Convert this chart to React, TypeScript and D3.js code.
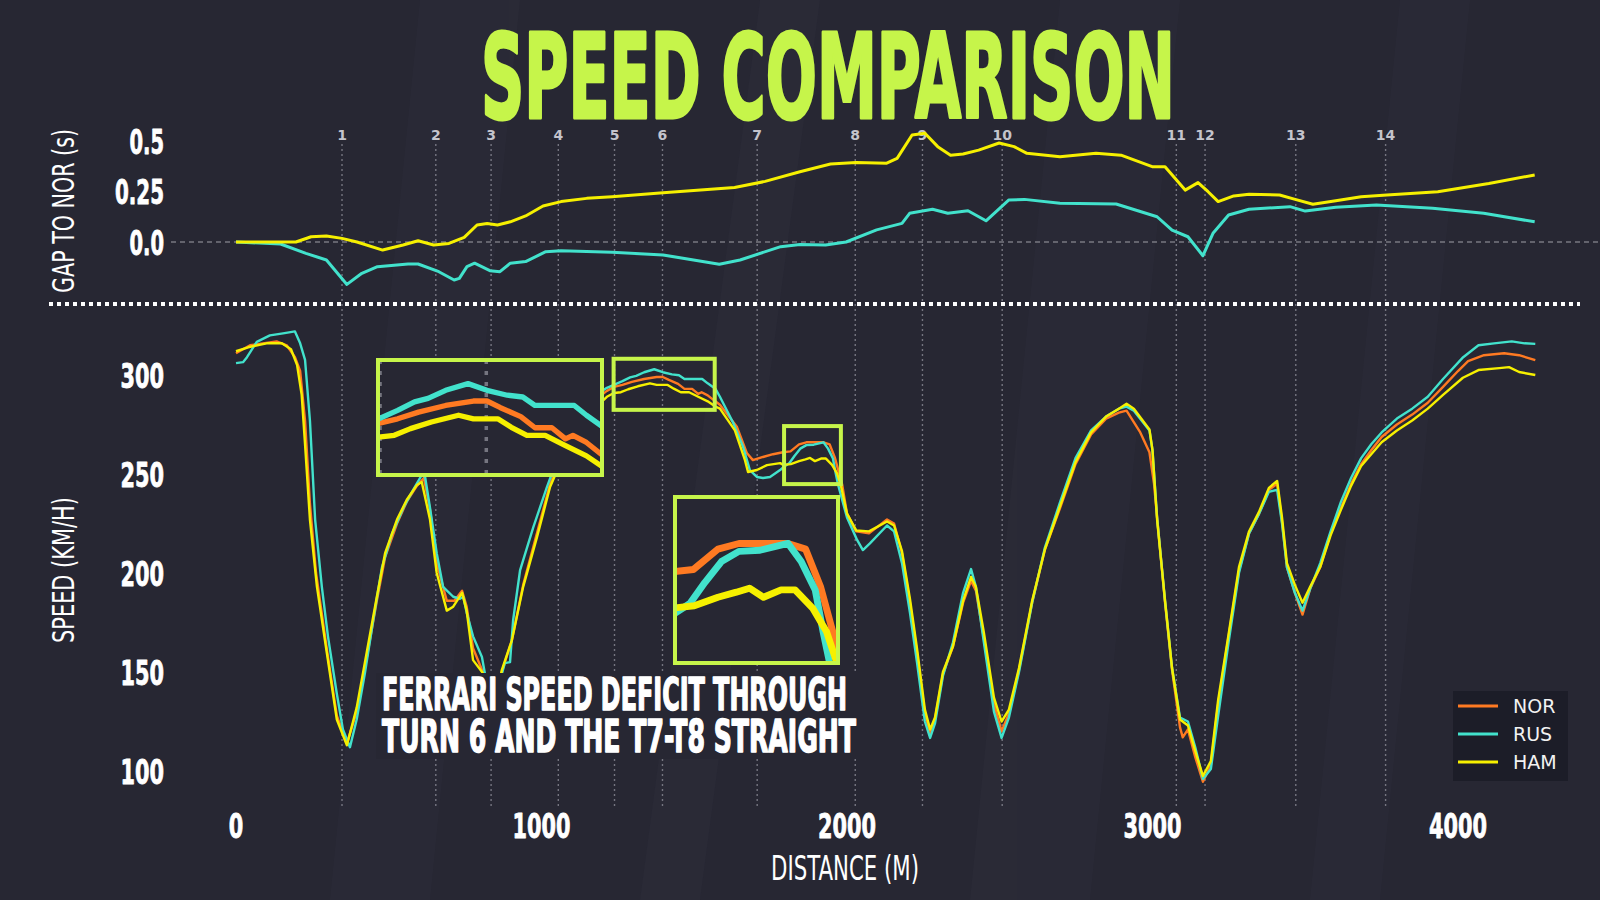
import React from 'react'
import * as d3 from 'd3'

type Pt = [number, number]

// distance (m), speed (km/h)
const norSpeed: Pt[] = [
  [0, 311], [46, 315], [133, 317], [166, 315], [193, 309], [210, 302], [226, 277], [242, 235], [262, 200], [297, 162],
  [330, 128], [363, 114], [395, 130], [428, 157], [461, 186], [488, 208], [527, 225], [559, 236], [592, 244], [615, 248],
  [635, 232], [657, 205], [690, 186], [715, 186], [740, 191], [755, 183], [776, 162], [808, 150], [840, 125], [870, 150],
  [903, 166], [940, 194], [985, 220], [1028, 245], [1080, 265], [1130, 279], [1180, 288], [1214, 292], [1237, 294], [1265, 295],
  [1296, 296.5], [1336, 298], [1377, 299], [1397, 299], [1417, 297.5], [1447, 295.5], [1468, 293], [1493, 293], [1513, 290.5], [1524, 291.3],
  [1544, 289.7], [1569, 286.7], [1584, 285], [1640, 273.7], [1672, 260.6], [1692, 257], [1725, 258.6], [1758, 260], [1790, 261], [1815, 261.4],
  [1843, 265], [1867, 266], [1899, 266], [1923, 266], [1943, 265], [1960, 258.4], [1972, 251.6], [1984, 244.8], [2000, 230], [2030, 221],
  [2072, 220], [2131, 227], [2154, 225], [2180, 210], [2206, 185], [2229, 160], [2255, 129], [2272, 119], [2288, 126], [2314, 149],
  [2347, 163], [2380, 185], [2406, 196], [2422, 191], [2448, 167], [2481, 134], [2506, 120], [2530, 129], [2563, 151], [2606, 185],
  [2648, 212], [2698, 233], [2748, 255], [2799, 270], [2848, 278], [2890, 281], [2915, 282], [2960, 271], [2990, 261], [3005, 245],
  [3020, 220], [3041, 185], [3064, 151], [3090, 122], [3099, 117], [3116, 121], [3140, 107], [3165, 94.6], [3191, 103], [3215, 134],
  [3249, 168], [3283, 201], [3316, 220], [3349, 230], [3381, 242], [3408, 245], [3424, 226], [3440, 203], [3466, 190], [3491, 179],
  [3516, 192], [3549, 203], [3583, 220], [3617, 233], [3650, 245], [3683, 255], [3716, 262], [3750, 268.7], [3800, 275], [3850, 280],
  [3901, 286], [3951, 294], [4000, 302], [4033, 307], [4085, 310], [4151, 311], [4200, 310], [4253, 307.5],
]

const rusSpeed: Pt[] = [
  [0, 306], [23, 306.5], [36, 309], [68, 316.7], [111, 320], [154, 321], [193, 322], [210, 316], [226, 307.6], [242, 277],
  [259, 227], [281, 193], [301, 168], [330, 139], [350, 121], [373, 112], [395, 126], [422, 149.5], [449, 176], [478, 203],
  [511, 220], [548, 233], [580, 242], [608, 249.5], [619, 248.5], [635, 233], [657, 210], [678, 193], [711, 188], [733, 187],
  [744, 188], [755, 180], [776, 168], [805, 157.6], [815, 149], [843, 126], [870, 149], [880, 154.5], [897, 155], [907, 176],
  [930, 201.5], [973, 223], [1018, 243.5], [1030, 248.5], [1080, 267], [1130, 281], [1180, 290], [1214, 293.5], [1237, 295], [1265, 296.9],
  [1290, 298.8], [1310, 299.6], [1336, 301.4], [1369, 302.9], [1397, 301.4], [1427, 300.3], [1450, 299.9], [1468, 298], [1493, 298], [1526, 298],
  [1544, 295.8], [1569, 293.1], [1584, 289], [1627, 276], [1660, 263.6], [1682, 252], [1705, 248.5], [1725, 248], [1748, 248.5], [1781, 252],
  [1792, 253.5], [1811, 255.4], [1828, 259.1], [1847, 262.8], [1867, 264.6], [1891, 264.8], [1923, 266], [1938, 262.8], [1954, 257.8], [1963, 250.4],
  [1971, 244.5], [2000, 228], [2033, 216.7], [2052, 211.6], [2075, 215], [2131, 224], [2154, 221], [2180, 205], [2206, 180], [2229, 155],
  [2255, 125], [2272, 116.7], [2288, 124], [2314, 148], [2347, 165], [2380, 190], [2406, 202], [2422, 193], [2448, 165], [2481, 130],
  [2506, 116.7], [2530, 127], [2563, 150], [2606, 185], [2648, 213], [2698, 236], [2748, 258], [2799, 272], [2848, 279], [2890, 283],
  [2915, 284], [2939, 282], [2990, 272], [3000, 262], [3015, 228], [3041, 186], [3064, 152], [3090, 127], [3116, 125], [3140, 112],
  [3165, 96], [3191, 101], [3215, 128], [3249, 165], [3283, 200], [3316, 220], [3349, 230], [3381, 241], [3408, 242], [3424, 225],
  [3440, 203], [3466, 190], [3491, 181], [3516, 192], [3549, 205], [3583, 221], [3617, 236], [3650, 248], [3683, 258], [3716, 265],
  [3750, 271], [3800, 278], [3850, 283], [3901, 289], [3951, 298], [4017, 309], [4067, 315], [4118, 316], [4176, 317], [4218, 316],
  [4253, 315.7],
]

const hamSpeed: Pt[] = [
  [0, 312], [40, 314], [100, 316], [150, 316], [180, 313], [200, 305], [215, 290], [226, 265], [242, 227], [265, 193],
  [297, 160], [330, 126], [363, 113], [395, 132], [428, 160], [461, 188], [488, 210], [527, 227], [559, 237], [592, 244.4],
  [608, 246], [635, 227], [657, 200], [690, 181], [711, 183], [740, 190], [755, 181], [776, 156], [808, 149.5], [840, 124],
  [870, 151], [903, 166], [940, 193], [985, 218], [1028, 243.4], [1080, 262], [1130, 275], [1180, 284], [1214, 289], [1237, 290.9],
  [1260, 291.3], [1284, 292.8], [1315, 294.3], [1355, 295.8], [1377, 295], [1413, 295], [1433, 293.1], [1456, 291.3], [1483, 291.3], [1513, 289],
  [1544, 286.7], [1569, 284.1], [1584, 283], [1633, 272], [1666, 257], [1676, 251], [1705, 252], [1738, 254.5], [1781, 255.5], [1792, 254.6],
  [1816, 255], [1843, 256.5], [1864, 257.4], [1879, 258.1], [1895, 256.5], [1915, 257.8], [1931, 257.8], [1951, 254.6], [1967, 250.4], [1979, 244.8],
  [2000, 230], [2030, 221.5], [2072, 221], [2131, 226], [2154, 224], [2180, 211], [2206, 187], [2229, 162], [2255, 131], [2272, 121],
  [2288, 127], [2314, 150], [2347, 163], [2380, 186], [2406, 198], [2422, 193], [2448, 170], [2481, 137], [2506, 125], [2530, 131],
  [2563, 152], [2606, 186], [2648, 212], [2698, 234], [2748, 256], [2799, 271], [2848, 279], [2890, 283], [2915, 285.5], [2939, 283],
  [2990, 272.5], [3000, 262], [3015, 227], [3041, 186], [3064, 152], [3090, 126], [3116, 123], [3140, 110], [3165, 97.5], [3191, 105],
  [3215, 136], [3249, 169], [3283, 203], [3316, 221], [3349, 231], [3381, 243], [3408, 246.5], [3424, 228], [3440, 205], [3466, 194],
  [3491, 185], [3516, 193], [3549, 203], [3583, 219], [3617, 232], [3650, 244], [3683, 254], [3716, 260], [3750, 266], [3800, 272],
  [3850, 277], [3901, 283], [3951, 290], [4016, 298.6], [4067, 302.5], [4135, 303.5], [4167, 304], [4200, 301.5], [4253, 300],
]

// distance (m), gap to NOR (s)
const hamGap: Pt[] = [
  [0, 0], [196, 0], [246, 0.026], [296, 0.03], [347, 0.018], [396, 0], [480, -0.04], [547, -0.015], [596, 0.006], [647, -0.015],
  [697, -0.007], [747, 0.023], [789, 0.084], [822, 0.092], [856, 0.084], [898, 0.1], [948, 0.129], [1005, 0.178], [1064, 0.2], [1148, 0.216],
  [1231, 0.224], [1398, 0.244], [1632, 0.27], [1732, 0.3], [1846, 0.348], [1946, 0.386], [2030, 0.394], [2130, 0.39], [2164, 0.414], [2213, 0.53],
  [2255, 0.538], [2297, 0.472], [2339, 0.43], [2380, 0.436], [2431, 0.455], [2498, 0.49], [2547, 0.472], [2589, 0.439], [2697, 0.422], [2815, 0.439],
  [2897, 0.43], [2999, 0.373], [3041, 0.373], [3107, 0.257], [3149, 0.294], [3182, 0.249], [3215, 0.2], [3266, 0.228], [3316, 0.236], [3416, 0.233],
  [3467, 0.211], [3525, 0.187], [3600, 0.204], [3683, 0.224], [3767, 0.233], [3934, 0.249], [4101, 0.29], [4251, 0.332],
]

const rusGap: Pt[] = [
  [0, 0], [146, -0.01], [229, -0.056], [296, -0.089], [363, -0.21], [412, -0.155], [463, -0.122], [563, -0.109], [596, -0.109], [664, -0.147],
  [714, -0.188], [731, -0.18], [756, -0.122], [781, -0.105], [831, -0.142], [864, -0.147], [898, -0.105], [948, -0.097], [1014, -0.048], [1064, -0.043],
  [1231, -0.051], [1398, -0.064], [1582, -0.11], [1650, -0.089], [1783, -0.023], [1846, -0.012], [1930, -0.015], [1997, 0], [2097, 0.06], [2180, 0.092],
  [2205, 0.142], [2280, 0.162], [2330, 0.142], [2396, 0.155], [2455, 0.105], [2530, 0.208], [2581, 0.211], [2697, 0.192], [2881, 0.188], [3015, 0.125],
  [3064, 0.059], [3116, 0.026], [3165, -0.068], [3198, 0.043], [3249, 0.134], [3316, 0.162], [3450, 0.175], [3500, 0.153], [3600, 0.172], [3733, 0.183],
  [3917, 0.167], [4084, 0.142], [4251, 0.1],
]

const turnNames = ['1', '2', '3', '4', '5', '6', '7', '8', '9', '10', '11', '12', '13', '14']
const turnDist = [347, 654, 835, 1055, 1239, 1396, 1706, 2027, 2247, 2508, 3078, 3172, 3469, 3763]

const distTicks = [0, 1000, 2000, 3000, 4000]
const speedTicks = [100, 150, 200, 250, 300]
const gapTicks = [0, 0.25, 0.5]
const gapTickLabels = ['0.0', '0.25', '0.5']

const drivers = ['NOR', 'RUS', 'HAM']
const driverColors = ['#ff7a22', '#42e2cc', '#f6f000']

// zoomed regions: [distance from, distance to, speed low, speed high]
const zoomWindows = [
  [1236, 1567, 282.4, 308.2],
  [1794, 1980, 244.9, 274.2],
]

const BG = '#272733'
const LIME = '#c6f54a'
const CONDENSED = "'DejaVu Sans Condensed', 'DejaVu Sans', sans-serif"

const insetRects = [
  { x: 378, y: 360, w: 224, h: 115 },
  { x: 675, y: 497, w: 163, h: 166 },
]

// natural width of a string, used to squeeze text into the narrow look of the original
let ctx: CanvasRenderingContext2D | null = null
const measure = (s: string, size: number, bold: boolean) => {
  if (!ctx) ctx = document.createElement('canvas').getContext('2d')
  if (!ctx) return s.length * size * 0.6
  ctx.font = `${bold ? 'bold ' : ''}${size}px ${CONDENSED}`
  return ctx.measureText(s).width
}

type NarrowProps = {
  x: number
  y: number
  w: number
  size: number
  bold?: boolean
  anchor?: 'start' | 'middle' | 'end'
  rotate?: number
  fill?: string
  stroke?: number
  children: string
}

const Narrow: React.FC<NarrowProps> = ({ x, y, w, size, bold = false, anchor = 'start', rotate = 0, fill = '#fff', stroke = 0, children }) => {
  const k = w / measure(children, size, bold)
  return (
    <text transform={`translate(${x}, ${y}) rotate(${rotate}) scale(${k}, 1)`} fill={fill}
      stroke={stroke ? fill : 'none'} strokeWidth={stroke} strokeLinejoin='round'
      fontFamily={CONDENSED} fontWeight={bold ? 'bold' : 'normal'} fontSize={size} textAnchor={anchor}>
      {children}
    </text>
  )
}

const App: React.FC = () => {
  const width = 1600
  const height = 900

  const x = d3.scaleLinear().domain([0, 4000]).range([236, 1458])
  const yGap = d3.scaleLinear().domain([0, 0.5]).range([242, 141])
  const ySpeed = d3.scaleLinear().domain([100, 300]).range([771, 375])

  const speedLine = d3.line<Pt>().x(d => x(d[0])).y(d => ySpeed(d[1]))
  const gapLine = d3.line<Pt>().x(d => x(d[0])).y(d => yGap(d[1]))

  const speeds = [norSpeed, rusSpeed, hamSpeed]

  const numWidth = (s: string) => s.split('').reduce((a, c) => a + (c === '.' ? 5.5 : 14.5), 0)

  return (
    <svg width={width} height={height} style={{ position: 'absolute', left: 0, top: 0 }}>
      <defs>
        {insetRects.map((r, i) => (
          <clipPath id={`inset-${i}`} key={i}>
            <rect x={r.x} y={r.y} width={r.w} height={r.h} />
          </clipPath>
        ))}
      </defs>
      <rect x={0} y={0} width={width} height={height} fill={BG} />
      {/* faint diagonal bands */}
      <g fill='#2c2c39' opacity={0.6}>
        <polygon points='420,0 520,0 430,900 330,900' />
        <polygon points='760,0 820,0 700,900 640,900' />
        <polygon points='1060,0 1180,0 1090,900 970,900' />
        <polygon points='1400,0 1470,0 1380,900 1310,900' />
      </g>

      <Narrow x={481} y={118} w={694} size={117} bold fill={LIME} stroke={3}>SPEED COMPARISON</Narrow>

      {/* turn markers */}
      {turnDist.map((d, i) => (
        <g key={turnNames[i]}>
          <line x1={x(d)} x2={x(d)} y1={144} y2={807} stroke='#a0a0aa' strokeOpacity={0.65}
            strokeWidth={1.4} strokeDasharray='2,3' />
          <text x={x(d)} y={140} fill='#c4c4cc' fontFamily="'DejaVu Sans', sans-serif" fontWeight='bold'
            fontSize={14} textAnchor='middle'>{turnNames[i]}</text>
        </g>
      ))}

      {/* gap panel */}
      <line x1={171} x2={1600} y1={yGap(0)} y2={yGap(0)} stroke='#9a9aa3' strokeOpacity={0.7}
        strokeWidth={1.3} strokeDasharray='5,4' />
      {gapTicks.map((t, i) => (
        <Narrow key={t} x={164} y={yGap(t) + 12.5} w={numWidth(gapTickLabels[i])} size={34} bold stroke={0.8}
          anchor='end'>{gapTickLabels[i]}</Narrow>
      ))}
      <Narrow x={74} y={211} w={164} size={31} rotate={-90} anchor='middle'>GAP TO NOR (s)</Narrow>
      <path d={gapLine(rusGap) ?? ''} fill='none' stroke={driverColors[1]} strokeWidth={3} strokeLinejoin='round' />
      <path d={gapLine(hamGap) ?? ''} fill='none' stroke={driverColors[2]} strokeWidth={3} strokeLinejoin='round' />

      <line x1={49} x2={1580} y1={304} y2={304} stroke='#fff' strokeWidth={4} strokeDasharray='4,4' />

      {/* speed panel */}
      {speedTicks.map(t => (
        <Narrow key={t} x={164} y={ySpeed(t) + 12.5} w={numWidth(String(t))} size={34} bold stroke={0.8}
          anchor='end'>{String(t)}</Narrow>
      ))}
      {distTicks.map(t => (
        <Narrow key={t} x={x(t)} y={838} w={numWidth(String(t))} size={34} bold stroke={0.8}
          anchor='middle'>{String(t)}</Narrow>
      ))}
      <Narrow x={74} y={570} w={146} size={31} rotate={-90} anchor='middle'>SPEED (KM/H)</Narrow>
      <Narrow x={845} y={880} w={148} size={33} anchor='middle'>DISTANCE (M)</Narrow>

      {speeds.map((s, i) => (
        <path key={drivers[i]} d={speedLine(s) ?? ''} fill='none' stroke={driverColors[i]}
          strokeWidth={2.4} strokeLinejoin='round' />
      ))}

      {/* source boxes */}
      {zoomWindows.map((w, i) => (
        <rect key={i} x={x(w[0])} y={ySpeed(w[3])} width={x(w[1]) - x(w[0])}
          height={ySpeed(w[2]) - ySpeed(w[3])} fill='none' stroke={LIME} strokeWidth={4} />
      ))}

      {/* insets */}
      {zoomWindows.map((w, i) => {
        const r = insetRects[i]
        const ix = d3.scaleLinear().domain([w[0], w[1]]).range([r.x, r.x + r.w])
        const iy = d3.scaleLinear().domain([w[2], w[3]]).range([r.y + r.h, r.y])
        const sw = 2.4 * (r.w / (x(w[1]) - x(w[0])))
        const line = d3.line<Pt>().x(d => ix(d[0])).y(d => iy(d[1]))
        return (
          <g key={i}>
            <rect x={r.x} y={r.y} width={r.w} height={r.h} fill={BG} />
            <g clipPath={`url(#inset-${i})`}>
              {turnDist.filter(d => d >= w[0] && d <= w[1]).map(d => (
                <line key={d} x1={ix(d)} x2={ix(d)} y1={r.y} y2={r.y + r.h} stroke='#a0a0aa'
                  strokeOpacity={0.65} strokeWidth={3.5} strokeDasharray='4,7' />
              ))}
              {speeds.map((s, j) => (
                <path key={drivers[j]} d={line(s) ?? ''} fill='none' stroke={driverColors[j]}
                  strokeWidth={sw} strokeLinejoin='round' />
              ))}
            </g>
            <rect x={r.x} y={r.y} width={r.w} height={r.h} fill='none' stroke={LIME} strokeWidth={4} />
          </g>
        )
      })}

      {/* annotation, on a plain patch that hides the lines behind it */}
      <rect x={376} y={673} width={488} height={86} fill={BG} />
      <Narrow x={382} y={710} w={465} size={44} bold stroke={1.5}>FERRARI SPEED DEFICIT THROUGH</Narrow>
      <Narrow x={382} y={752} w={474} size={44} bold stroke={1.5}>TURN 6 AND THE T7-T8 STRAIGHT</Narrow>

      {/* legend */}
      <rect x={1453} y={691} width={115} height={90} fill='#1c1d28' />
      {drivers.map((d, i) => (
        <g key={d}>
          <line x1={1458} x2={1498} y1={706 + i * 28} y2={706 + i * 28} stroke={driverColors[i]} strokeWidth={3} />
          <text x={1513} y={706 + i * 28 + 7} fill='#f2f2f2' fontFamily="'DejaVu Sans', sans-serif"
            fontSize={19}>{d}</text>
        </g>
      ))}
    </svg>
  )
}

export default App
